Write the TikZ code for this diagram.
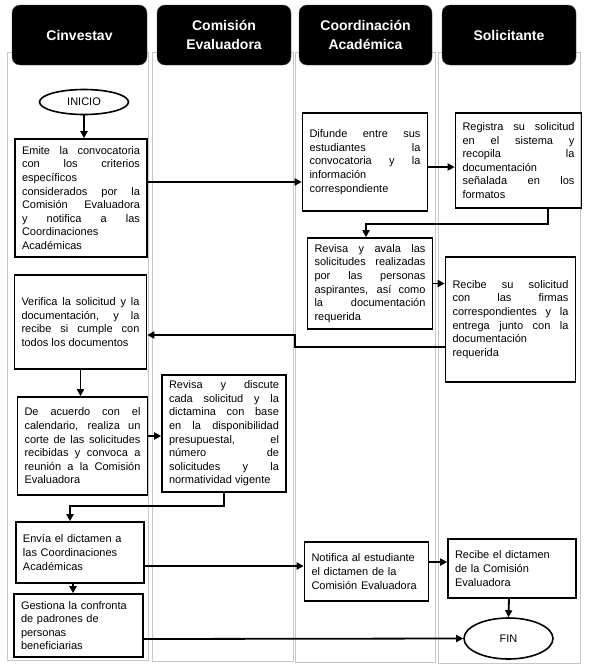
\documentclass[tikz,border=0pt]{standalone}
\usepackage{fontspec}
\setmainfont{Liberation Sans}
\usetikzlibrary{arrows.meta,shapes.geometric}
\tikzset{
  lane/.style={draw=black!22, line width=0.8pt},
  header/.style={fill=black, draw=black!70, rounded corners=8pt, text=white,
    font=\fontsize{14}{19}\selectfont\bfseries, align=center, inner sep=0pt},
  box/.style={draw=black, line width=1.6pt, rectangle, inner xsep=7pt, inner ysep=2pt,
    font=\fontsize{11}{13.6}\selectfont, align=justify},
  lbox/.style={box, align=left},
  term/.style={draw=black, line width=1.6pt, ellipse, inner sep=0pt,
    font=\fontsize{11}{13}\selectfont},
  arr/.style={line width=1.8pt, -{Triangle[length=7pt,width=7pt]}}
}
\begin{document}
\begin{tikzpicture}[x=1pt,y=-1pt]
\useasboundingbox (0,0) rectangle (589,670);
% lanes
\draw[lane] (7,52) rectangle (148,660);
\draw[lane] (152,52) rectangle (293,661);
\draw[lane] (295,52) rectangle (435,662);
\draw[lane] (438,52) rectangle (580,663);
% headers
\node[header, minimum width=135pt, minimum height=60pt] (h1) at (79.5,35) {Cinvestav};
\node[header, minimum width=134pt, minimum height=60pt] (h2) at (224,35) {Comisión\\Evaluadora};
\node[header, minimum width=133pt, minimum height=60pt] (h3) at (365.5,35) {Coordinación\\Académica};
\node[header, minimum width=134pt, minimum height=60pt] (h4) at (509,35) {Solicitante};
% terminals
\node[term, minimum width=89pt, minimum height=25pt] (inicio) at (84,102) {INICIO};
\node[term, minimum width=89pt, minimum height=41pt] (fin) at (508.5,638.5) {FIN};
% boxes
\node[box, minimum width=132pt, minimum height=118pt, text width=118pt] (emite) at (81,198)
 {Emite la convocatoria\linebreak con los criterios\linebreak específicos\linebreak considerados por la\linebreak Comisión Evaluadora\linebreak y notifica a las\linebreak Coordinaciones\linebreak Académicas};
\node[box, minimum width=124pt, minimum height=98pt, text width=111pt] (difunde) at (365,162)
 {Difunde entre sus\linebreak estudiantes la\linebreak convocatoria y la\linebreak información\linebreak correspondiente};
\node[box, minimum width=125pt, minimum height=95pt, text width=112pt] (registra) at (518.5,160.5)
 {Registra su solicitud\linebreak en el sistema y\linebreak recopila la\linebreak documentación\linebreak señalada en los\linebreak formatos};
\node[box, minimum width=124pt, minimum height=91pt, text width=111pt] (revisa) at (370,283.5)
 {Revisa y avala las\linebreak solicitudes realizadas\linebreak por las personas\linebreak aspirantes, así como\linebreak la documentación\linebreak requerida};
\node[box, minimum width=129pt, minimum height=125pt, text width=116pt] (recibe) at (510.5,319.5)
 {Recibe su solicitud\linebreak con las firmas\linebreak correspondientes y la\linebreak entrega junto con la\linebreak documentación\linebreak requerida};
\node[box, minimum width=131pt, minimum height=94pt, text width=118pt] (verifica) at (80.5,322)
 {Verifica la solicitud y la\linebreak documentación, y la\linebreak recibe si cumple con\linebreak todos los documentos};
\node[box, minimum width=129pt, minimum height=98pt, text width=116pt] (acuerdo) at (82.5,446)
 {De acuerdo con el\linebreak calendario, realiza un\linebreak corte de las solicitudes\linebreak recibidas y convoca a\linebreak reunión a la Comisión\linebreak Evaluadora};
\node[box, minimum width=122pt, minimum height=117pt, text width=110pt] (discute) at (224,433.5)
 {Revisa y discute\linebreak cada solicitud y la\linebreak dictamina con base\linebreak en la disponibilidad\linebreak presupuestal, el\linebreak número de\linebreak solicitudes y la\linebreak normatividad vigente};
\node[lbox, minimum width=128pt, minimum height=61pt, text width=114pt] (envia) at (80,552.5)
 {Envía el dictamen a\\las Coordinaciones\\Académicas};
\node[lbox, minimum width=129pt, minimum height=63pt, text width=115pt] (gestiona) at (78.5,625.5)
 {Gestiona la confronta\\de padrones de\\personas\\beneficiarias};
\node[lbox, minimum width=123pt, minimum height=59pt, text width=110pt] (notifica) at (366.5,571.5)
 {Notifica al estudiante\\el dictamen de la\\Comisión Evaluadora};
\node[lbox, minimum width=128pt, minimum height=59pt, text width=114pt] (dictamen) at (512,568.5)
 {Recibe el dictamen\\de la Comisión\\Evaluadora};
% connectors
\draw[arr] (inicio.south) -- (inicio.south |- emite.north);
\draw[arr] (emite.east |- 0,182) -- (difunde.west |- 0,182);
\draw[arr] (difunde.east |- 0,167) -- (registra.west |- 0,167);
\draw[arr] (registra.south -| 548,0) -- (548,224) -- (366,224) -- (revisa.north -| 366,0);
\draw[arr] (revisa.east) -- (revisa.east -| recibe.west);
\draw[arr] (recibe.west |- 0,347) -- (295,347) -- (295,335) -- (verifica.east |- 0,335);
\draw[arr] (verifica.south) -- (verifica.south |- acuerdo.north);
\draw[arr] (acuerdo.east |- 0,436) -- (discute.west |- 0,436);
\draw[arr] (discute.south) -- (224,506) -- (70,506) -- (envia.north -| 70,0);
\draw[arr] (envia.east |- 0,566) -- (notifica.west |- 0,566);
\draw[arr] (envia.south -| 73,0) -- (gestiona.north -| 73,0);
\draw[arr] (notifica.east |- 0,562) -- (dictamen.west |- 0,562);
\draw[arr] (dictamen.south -| 509,0) -- (fin.north);
\draw[arr] (gestiona.east |- 0,639) -- (fin.west);
\end{tikzpicture}
\end{document}
